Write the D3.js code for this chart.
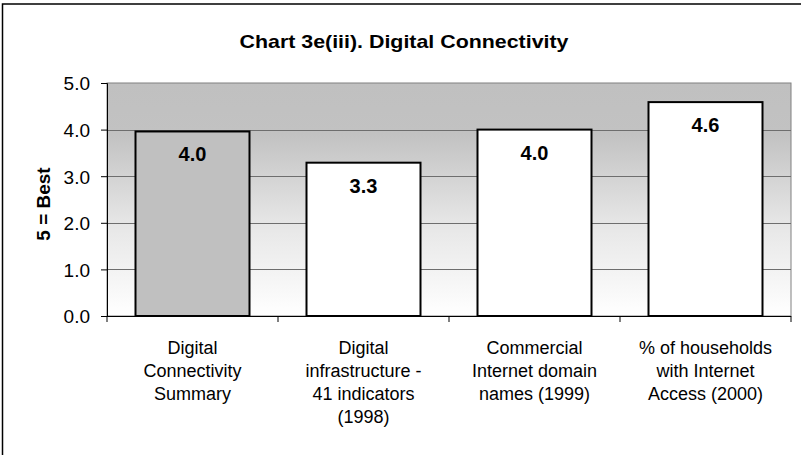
<!DOCTYPE html>
<html>
<head>
<meta charset="utf-8">
<script src="https://cdn.jsdelivr.net/npm/d3@7"></script>
<style>
  body { margin: 0; background: #fff; }
  svg { display: block; font-family: Arial, "Liberation Sans", sans-serif; }
</style>
</head>
<body>
<svg id="chart" width="801" height="455"></svg>
<script>
const title = 'Chart 3e(iii). Digital Connectivity'
const yLabel = '5 = Best'
const categories = [
  ['Digital', 'Connectivity', 'Summary'],
  ['Digital', 'infrastructure -', '41 indicators', '(1998)'],
  ['Commercial', 'Internet domain', 'names (1999)'],
  ['% of households', 'with Internet', 'Access (2000)']
]
const values = [3.96, 3.29, 4.0, 4.59]
const barFills = ['#c0c0c0', '#ffffff', '#ffffff', '#ffffff']
const yTicks = [0, 1, 2, 3, 4, 5]

const svg = d3.select('#chart')
const plot = { left: 107, top: 83, right: 791, bottom: 316 }

// outer frame (only left and top edges fall inside the picture)
svg.append('rect')
  .attr('x', 2.5).attr('y', 4)
  .attr('width', 810).attr('height', 470)
  .attr('fill', '#fff')
  .attr('stroke', '#000')
  .attr('stroke-width', 1.5)

const defs = svg.append('defs')
const grad = defs.append('linearGradient')
  .attr('id', 'bg')
  .attr('x1', 0).attr('y1', 0).attr('x2', 0).attr('y2', 1)
grad.append('stop').attr('offset', '0%').attr('stop-color', '#c0c0c0')
grad.append('stop').attr('offset', '22%').attr('stop-color', '#c2c2c2')
grad.append('stop').attr('offset', '60%').attr('stop-color', '#e6e6e6')
grad.append('stop').attr('offset', '100%').attr('stop-color', '#ffffff')

const x = d3.scaleBand()
  .domain(d3.range(categories.length))
  .range([plot.left, plot.right])
  .paddingInner(1 / 3)
  .paddingOuter(1 / 6)

const y = d3.scaleLinear()
  .domain([0, 5])
  .range([plot.bottom, plot.top])

svg.append('rect')
  .attr('x', plot.left).attr('y', plot.top)
  .attr('width', plot.right - plot.left)
  .attr('height', plot.bottom - plot.top)
  .attr('fill', 'url(#bg)')
  .attr('stroke', '#808080')
  .attr('stroke-width', 1)

// gridlines
svg.append('g')
  .selectAll('line')
  .data(yTicks.slice(1, -1))
  .join('line')
  .attr('x1', plot.left).attr('x2', plot.right)
  .attr('y1', (d) => Math.round(y(d)) + 0.5)
  .attr('y2', (d) => Math.round(y(d)) + 0.5)
  .attr('stroke', '#6e6e6e')

// bars
svg.append('g')
  .selectAll('rect')
  .data(values)
  .join('rect')
  .attr('x', (d, i) => x(i))
  .attr('y', (d) => y(d))
  .attr('width', x.bandwidth())
  .attr('height', (d) => y(0) - y(d))
  .attr('fill', (d, i) => barFills[i])
  .attr('stroke', '#000')
  .attr('stroke-width', 2)

// value labels
svg.append('g')
  .selectAll('text')
  .data(values)
  .join('text')
  .attr('x', (d, i) => x(i) + x.bandwidth() / 2)
  .attr('y', (d) => y(d) + 30)
  .attr('text-anchor', 'middle')
  .attr('font-size', 20)
  .attr('font-weight', 'bold')
  .text((d) => d.toFixed(1))

// y axis
const yAxis = d3.axisLeft(y)
  .tickValues(yTicks)
  .tickSize(6)
  .tickPadding(11)
  .tickFormat(d3.format('.1f'))
svg.append('g')
  .attr('transform', `translate(${plot.left},0)`)
  .call(yAxis)
  .call((g) => g.selectAll('text')
    .attr('font-size', 19)
    .attr('dy', '0.36em')
    .attr('fill', '#000')
    .style('font-family', 'Arial, "Liberation Sans", sans-serif'))
  .call((g) => g.selectAll('line, path').attr('stroke', '#000'))

// x axis: ticks at category boundaries
const bounds = d3.range(categories.length + 1)
  .map((i) => plot.left + i * (plot.right - plot.left) / categories.length)
svg.append('line')
  .attr('x1', plot.left).attr('x2', plot.right)
  .attr('y1', plot.bottom + 0.5).attr('y2', plot.bottom + 0.5)
  .attr('stroke', '#000')
svg.append('g')
  .selectAll('line')
  .data(bounds)
  .join('line')
  .attr('x1', (d) => d).attr('x2', (d) => d)
  .attr('y1', plot.bottom).attr('y2', plot.bottom + 6)
  .attr('stroke', '#000')

// category labels
const catText = svg.append('g')
  .selectAll('text')
  .data(categories)
  .join('text')
  .attr('x', (d, i) => x(i) + x.bandwidth() / 2)
  .attr('y', 354)
  .attr('text-anchor', 'middle')
  .attr('font-size', 18)
catText.selectAll('tspan')
  .data((d) => d)
  .join('tspan')
  .attr('x', function () { return d3.select(this.parentNode).attr('x') })
  .attr('dy', (d, i) => (i === 0 ? 0 : 23))
  .text((d) => d)

// title
svg.append('text')
  .attr('x', 404)
  .attr('y', 48)
  .attr('text-anchor', 'middle')
  .attr('font-size', 19)
  .attr('font-weight', 'bold')
  .attr('textLength', 329)
  .attr('lengthAdjust', 'spacingAndGlyphs')
  .text(title)

// y label
svg.append('text')
  .attr('transform', 'translate(50,204) rotate(-90)')
  .attr('text-anchor', 'middle')
  .attr('font-size', 19)
  .attr('font-weight', 'bold')
  .text(yLabel)
</script>
</body>
</html>
